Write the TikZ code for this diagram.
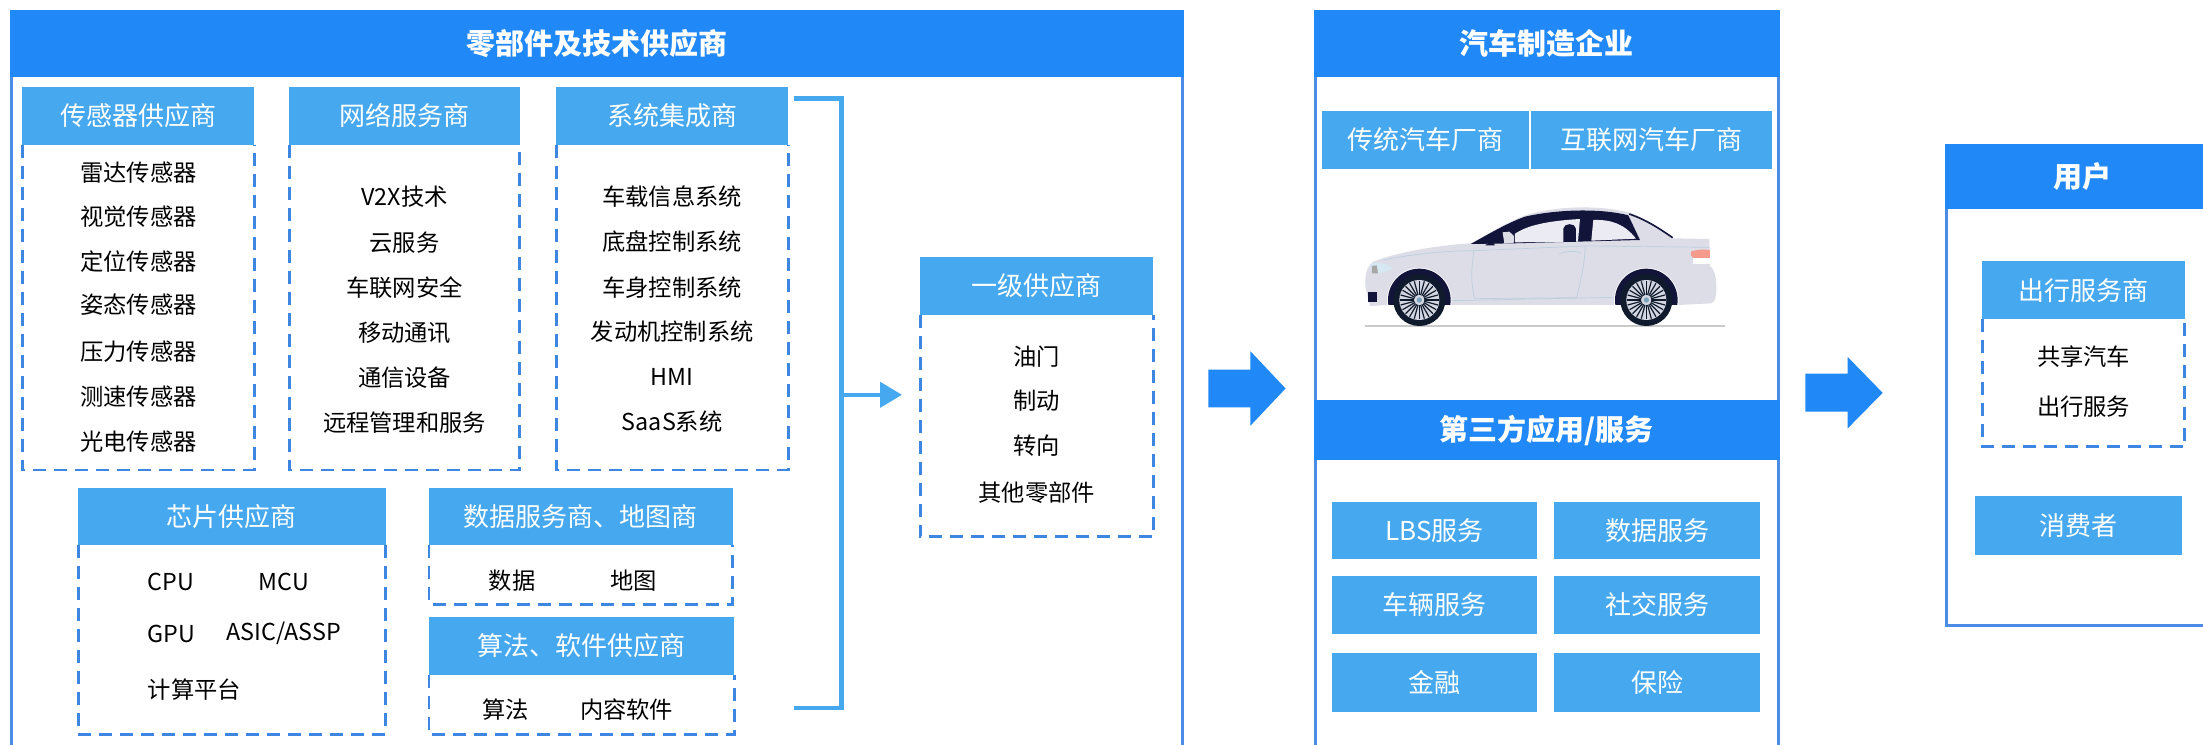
\documentclass[tikz,border=0pt]{standalone}
\usepackage{fontspec}
\setmainfont{Noto Sans CJK SC}
\usetikzlibrary{arrows.meta}

\definecolor{hdblue}{HTML}{2089F7}
\definecolor{ltblue}{HTML}{46A8EF}
\definecolor{panelblue}{HTML}{4A8CE6}
\definecolor{dashblue}{HTML}{3D87E2}
\definecolor{carbody}{HTML}{DDDDE8}
\definecolor{glassdark}{HTML}{12143A}
\definecolor{glasslight}{HTML}{EBEBF3}
\definecolor{tiredark}{HTML}{0F1A2C}
\definecolor{rimgray}{HTML}{D3D6E0}
\definecolor{hubblue}{HTML}{7EA3BE}
\definecolor{trimline}{HTML}{BCD0DC}
\definecolor{tailred}{HTML}{F59B8B}
\definecolor{shadowgray}{HTML}{CACACA}
\definecolor{lampblue}{HTML}{D6E8F1}

\newcommand\hdrfont{\fontsize{29}{34}\selectfont\bfseries}
\newcommand\subfont{\fontsize{26}{30}\selectfont}
\newcommand\itmfont{\fontsize{23.3}{28}\selectfont}

% filled box given by its corners: name, style, x1, y1, x2, y2, text
\newcommand\boxat[7]{%
  \pgfmathsetmacro\bxw{(#5-#3)*1.405}%
  \pgfmathsetmacro\bxh{(#6-#4)*1.405}%
  \node[#2, minimum width=\bxw pt, minimum height=\bxh pt] (#1) at ({(#3+#5)/2},{(#4+#6)/2}) {#7};%
}
% dashed frame hanging below a header node down to a given y
\newcommand\dashu[2]{%
  \draw[dashbox] (#1.south west) -- (#1.south west |- 0,#2) -- (#1.south east |- 0,#2) -- (#1.south east);%
}

\tikzset{
  hdr/.style={fill=hdblue, text=white, font=\hdrfont, inner sep=0pt, outer sep=0pt},
  sub/.style={fill=ltblue, text=white, font=\subfont, inner sep=0pt, outer sep=0pt},
  tag/.style={fill=ltblue, text=white, font=\subfont, inner sep=0pt, outer sep=0pt},
  itm/.style={text=black, font=\itmfont, inner sep=0pt},
  dashbox/.style={draw=dashblue, line width=2.8pt, dash pattern=on 13pt off 8pt},
  panel/.style={draw=panelblue, line width=3pt},
  bracket/.style={draw=ltblue, line width=4.5pt, line join=miter},
  blockarrow/.style={fill=hdblue},
}

\begin{document}
\begin{tikzpicture}[x=1.405pt, y=-1.405pt]
\useasboundingbox (0,0) rectangle (1568,530);
\fill[white] (0,0) rectangle (1568,530);
\clip (0,0) rectangle (1568,530);

% ---------- parts and technology suppliers ----------
\draw[panel] (8.5,50) -- (8.5,560) -- (841.5,560) -- (841.5,50);
\boxat{ph1}{hdr}{7}{7}{843}{54.6}{零部件及技术供应商}

\boxat{s1h}{sub}{16}{62}{181}{103}{传感器供应商}
\dashu{s1h}{334.5}
\node[itm] (s1a) at (98.5,123) {雷达传感器};
\node[itm] (s1b) at (98.5,154) {视觉传感器};
\node[itm] (s1c) at (98.5,186) {定位传感器};
\node[itm] (s1d) at (98.5,217) {姿态传感器};
\node[itm] (s1e) at (98.5,250) {压力传感器};
\node[itm] (s1f) at (98.5,282) {测速传感器};
\node[itm] (s1g) at (98.5,314) {光电传感器};

\boxat{s2h}{sub}{206}{62}{370}{103}{网络服务商}
\dashu{s2h}{334.5}
\node[itm] (s2a) at (288,140) {V2X技术};
\node[itm] (s2b) at (288,173) {云服务};
\node[itm] (s2c) at (288,205) {车联网安全};
\node[itm] (s2d) at (288,237) {移动通讯};
\node[itm] (s2e) at (288,269) {通信设备};
\node[itm] (s2f) at (288,301) {远程管理和服务};

\boxat{s3h}{sub}{396}{62}{561}{103}{系统集成商}
\dashu{s3h}{334.5}
\node[itm] (s3a) at (478.5,140) {车载信息系统};
\node[itm] (s3b) at (478.5,172) {底盘控制系统};
\node[itm] (s3c) at (478.5,205) {车身控制系统};
\node[itm] (s3d) at (478.5,236) {发动机控制系统};
\node[itm] (s3e) at (478.5,268) {HMI};
\node[itm] (s3f) at (478.5,300) {SaaS系统};

\boxat{s4h}{sub}{55.7}{347}{274.5}{388}{芯片供应商}
\dashu{s4h}{522.5}
\node[itm, anchor=west] (s4a) at (105,414) {CPU};
\node[itm] (s4b) at (202,414) {MCU};
\node[itm, anchor=west] (s4c) at (105,451) {GPU};
\node[itm] (s4d) at (202,451) {ASIC/ASSP};
\node[itm, anchor=west] (s4e) at (105,491) {计算平台};

\boxat{s5h}{sub}{305.4}{347}{521.5}{388}{数据服务商、地图商}
\dashu{s5h}{430}
\node[itm] (s5a) at (364.5,413.5) {数据};
\node[itm] (s5b) at (450.8,413.5) {地图};

\boxat{s6h}{sub}{305.4}{439}{522.5}{480.5}{算法、软件供应商}
\dashu{s6h}{523}
\node[itm] (s6a) at (360,505) {算法};
\node[itm] (s6b) at (446,505) {内容软件};

% bracket gathering the suppliers, feeding tier-one suppliers
\coordinate (brtop) at (565,70);
\coordinate (brtopc) at (599,70);
\coordinate (brbotc) at (599,504);
\coordinate (brbot) at (565,504);
\coordinate (brmid) at (599,281);
\draw[bracket] (brtop) -- (brtopc) -- (brbotc) -- (brbot);

\boxat{t1h}{sub}{655}{183}{821}{224}{一级供应商}
\dashu{t1h}{382}
\node[itm] (t1a) at (738,254) {油门};
\node[itm] (t1b) at (738,285) {制动};
\node[itm] (t1c) at (738,317) {转向};
\node[itm] (t1d) at (738,351) {其他零部件};

\coordinate (t1in) at (642,281);
\draw[bracket, -{Triangle[length=22pt, width=25pt]}] (brmid) -- (t1in);

% ---------- block arrows between stages ----------
\fill[blockarrow] (860,263) -- (890,263) -- (890,250) -- (915,276.5) -- (890,303) -- (890,290) -- (860,290) -- cycle;
\fill[blockarrow] (1285,266) -- (1315,266) -- (1315,254) -- (1340,279.6) -- (1315,305) -- (1315,293) -- (1285,293) -- cycle;

% ---------- carmakers ----------
\draw[panel] (936,50) -- (936,560) -- (1265.5,560) -- (1265.5,50);
\boxat{ph2}{hdr}{935}{7}{1267}{54.6}{汽车制造企业}
\boxat{oem1}{tag}{941}{79}{1088}{120}{传统汽车厂商}
\boxat{oem2}{tag}{1090}{79}{1261}{120}{互联网汽车厂商}

% car, drawn in its own local units (y down)
\begin{scope}[shift={(960.85,135.23)}, scale=0.23725]
  \fill[shadowgray] (45,404) rectangle (1125,411);
  \begin{scope}
    \clip (0,150) rectangle (1150,345);
    \fill[glassdark] (208,330) circle[radius=94];
    \fill[glassdark] (889,330) circle[radius=94];
  \end{scope}
  \fill[carbody] (60,348) -- (46,290) .. controls (44,250) and (52,228) .. (70,215)
    .. controls (130,190) and (260,165) .. (365,160)
    .. controls (420,128) and (470,98) .. (525,76)
    .. controls (630,44) and (770,46) .. (850,72)
    .. controls (900,92) and (940,122) .. (970,145)
    -- (1078,147) -- (1080,228) .. controls (1100,240) and (1104,300) .. (1095,330)
    -- (1085,340) -- (984.8,345) arc[start angle=8.9, end angle=-188.9, radius=97]
    -- (303.8,345) arc[start angle=8.9, end angle=-188.9, radius=97] -- cycle;
  % glasshouse
  \fill[glassdark] (362,162) .. controls (420,130) and (470,100) .. (525,80)
    .. controls (630,56) and (760,56) .. (835,76) -- (870,150) -- (490,160) -- cycle;
  \draw[glassdark, line width=1.6pt] (838,72) .. controls (890,90) and (932,118) .. (968,143);
  \fill[glasslight] (495,157) -- (495,131) .. controls (530,108) and (585,93) .. (690,87) -- (684,155) -- cycle;
  \fill[glassdark] (640,156) -- (640,116) .. controls (642,98) and (676,98) .. (678,116) -- (678,156) -- cycle;
  \fill[glasslight] (724,152) -- (730,90) .. controls (785,88) and (825,103) .. (858,146) -- cycle;
  % mirror
  \fill[glassdark] (406,166) -- (430,147) -- (434,166) -- cycle;
  \fill[carbody] (458,127) -- (478,125) -- (492,138) -- (492,158) -- (463,160) -- cycle;
  % panel lines
  \draw[trimline, line width=0.7pt] (100,210) .. controls (200,190) and (300,182) .. (372,182) -- (705,168) -- (1078,172);
  \draw[trimline, line width=0.7pt] (372,182) .. controls (362,240) and (364,290) .. (374,326) -- (680,323)
    .. controls (695,260) and (706,210) .. (705,168);
  \draw[trimline, line width=0.7pt] (628,192) .. controls (648,182) and (684,182) .. (692,190);
  \draw[trimline, line width=0.7pt] (303,332) -- (793,322);
  % lamps
  \fill[lampblue] (62,222) .. controls (92,214) and (116,224) .. (128,236) .. controls (108,246) and (84,252) .. (64,250) -- cycle;
  \fill[gray!70] (66,228) -- (80,226) -- (84,250) -- (66,250) -- cycle;
  \fill[glassdark] (54,306) rectangle (80,336);
  \fill[tailred] (1024,184) .. controls (1040,178) and (1065,178) .. (1080,180) -- (1080,205) -- (1030,205)
    .. controls (1022,200) and (1020,190) .. (1024,184) -- cycle;
  \fill[white] (1030,205) rectangle (1080,222);
  % wheels
  \foreach \cx in {208,889} {
    \fill[tiredark] (\cx,330) circle[radius=78];
    \fill[rimgray] (\cx,330) circle[radius=60];
    \foreach \a in {0,15,...,345}
      \draw[tiredark, line width=1.2pt] (\cx,330) ++(\a:15) -- ++(\a:43);
    \fill[rimgray] (\cx,330) circle[radius=15];
    \fill[hubblue] (\cx,330) circle[radius=8];
  }
\end{scope}

\boxat{ph3}{hdr}{935}{285}{1267}{327.5}{第三方应用/服务}
\boxat{a1}{tag}{948}{357}{1094}{398}{LBS服务}
\boxat{a2}{tag}{1106}{357}{1253}{398}{数据服务}
\boxat{a3}{tag}{948}{410}{1094}{451}{车辆服务}
\boxat{a4}{tag}{1106}{410}{1253}{451}{社交服务}
\boxat{a5}{tag}{948}{465}{1094}{507}{金融}
\boxat{a6}{tag}{1106}{465}{1253}{507}{保险}

% ---------- users ----------
\draw[panel] (1385.5,140) -- (1385.5,445) -- (1578.5,445) -- (1578.5,140);
\boxat{ph4}{hdr}{1384}{102.5}{1580}{149}{用户}
\boxat{u1h}{sub}{1411}{186}{1555}{227}{出行服务商}
\dashu{u1h}{318}
\node[itm] (u1a) at (1483,254) {共享汽车};
\node[itm] (u1b) at (1483,289.5) {出行服务};
\boxat{u2}{tag}{1406}{353}{1553}{395}{消费者}

\end{tikzpicture}
\end{document}
